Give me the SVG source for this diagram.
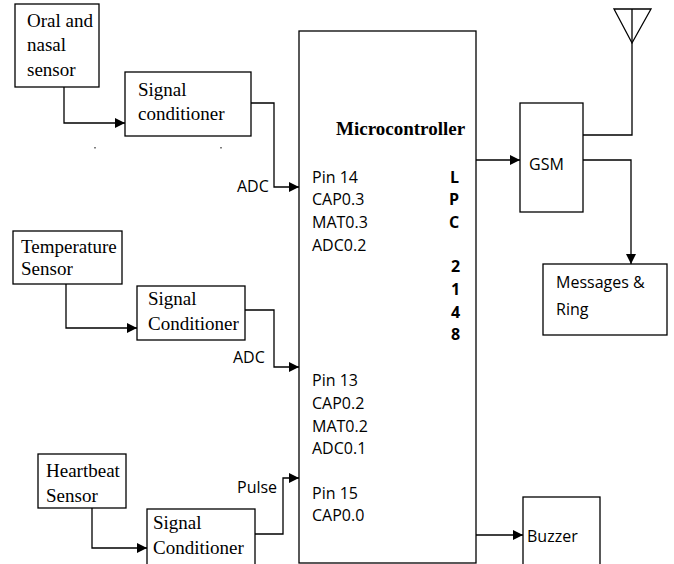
<svg xmlns="http://www.w3.org/2000/svg" width="674" height="564" viewBox="0 0 674 564">
<defs>
<marker id="ah" viewBox="0 0 10 10" refX="10" refY="5" markerWidth="10" markerHeight="10" markerUnits="userSpaceOnUse" orient="auto">
<path d="M0,0 L10,5 L0,10 z" fill="#000"/>
</marker>
<style>
.box{fill:#fff;stroke:#000;stroke-width:1.3}
.ln{fill:none;stroke:#000;stroke-width:1.3}
.ser{font-family:"Liberation Serif","Times New Roman",serif;font-size:19px;fill:#000}
.sb{font-family:"Liberation Serif","Times New Roman",serif;font-size:19px;font-weight:bold;fill:#000}
.sans{font-family:"Open Sans","DejaVu Sans",sans-serif;font-size:16px;fill:#000}
.bold{font-family:"Open Sans","DejaVu Sans",sans-serif;font-size:16px;font-weight:bold;fill:#000}
</style>
</defs>
<rect width="674" height="564" fill="#fff"/>

<g id="connectors">
<path class="ln" d="M64,87 V123 H125" marker-end="url(#ah)"/>
<path class="ln" d="M251,103 H274 V187 H299" marker-end="url(#ah)"/>
<path class="ln" d="M66,284 V328 H137" marker-end="url(#ah)"/>
<path class="ln" d="M245,310 H274 V367 H299" marker-end="url(#ah)"/>
<path class="ln" d="M92,508 V548 H147" marker-end="url(#ah)"/>
<path class="ln" d="M255,534 H283 V478 H299" marker-end="url(#ah)"/>
<path class="ln" d="M476,160 H520" marker-end="url(#ah)"/>
<path class="ln" d="M583,135 H632 V9"/>
<path class="ln" d="M583,160 H631 V264" marker-end="url(#ah)"/>
<path class="ln" d="M476,535 H523" marker-end="url(#ah)"/>
<text class="sans" x="237" y="192">ADC</text>
<text class="sans" x="233" y="363">ADC</text>
<text class="sans" x="237" y="493">Pulse</text>
<rect x="94.5" y="147" width="1" height="1.5" fill="#000"/>
<rect x="220.5" y="147" width="1" height="1.5" fill="#000"/>
</g>

<g id="oral-nasal-sensor">
<rect class="box" x="15" y="4" width="84" height="83"/>
<text class="ser" x="27" y="27">Oral and</text>
<text class="ser" x="27" y="51">nasal</text>
<text class="ser" x="27" y="76">sensor</text>
</g>

<g id="signal-conditioner-1">
<rect class="box" x="125" y="72" width="126" height="64"/>
<text class="ser" x="138" y="96">Signal</text>
<text class="ser" x="138" y="120">conditioner</text>
</g>

<g id="temperature-sensor">
<rect class="box" x="13" y="231" width="109" height="53"/>
<text class="ser" x="21" y="253">Temperature</text>
<text class="ser" x="21" y="275">Sensor</text>
</g>

<g id="signal-conditioner-2">
<rect class="box" x="137" y="286" width="108" height="54"/>
<text class="ser" x="148" y="305">Signal</text>
<text class="ser" x="148" y="330">Conditioner</text>
</g>

<g id="heartbeat-sensor">
<rect class="box" x="38" y="454" width="88" height="54"/>
<text class="ser" x="46" y="477">Heartbeat</text>
<text class="ser" x="46" y="502">Sensor</text>
</g>

<g id="signal-conditioner-3">
<rect class="box" x="147" y="509" width="108" height="60"/>
<text class="ser" x="153" y="529">Signal</text>
<text class="ser" x="153" y="554">Conditioner</text>
</g>

<g id="microcontroller">
<rect class="box" x="299" y="31" width="177" height="532"/>
<text class="sb" x="336" y="135">Microcontroller</text>
<text class="sans" x="312" y="183">Pin 14</text>
<text class="sans" x="312" y="205">CAP0.3</text>
<text class="sans" x="312" y="228">MAT0.3</text>
<text class="sans" x="312" y="251">ADC0.2</text>
<text class="sans" x="312" y="386">Pin 13</text>
<text class="sans" x="312" y="409">CAP0.2</text>
<text class="sans" x="312" y="432">MAT0.2</text>
<text class="sans" x="312" y="454">ADC0.1</text>
<text class="sans" x="312" y="499">Pin 15</text>
<text class="sans" x="312" y="521">CAP0.0</text>
<text class="bold" x="450" y="183">L</text>
<text class="bold" x="449" y="205">P</text>
<text class="bold" x="449" y="228">C</text>
<text class="bold" x="451" y="272">2</text>
<text class="bold" x="451" y="295">1</text>
<text class="bold" x="451" y="318">4</text>
<text class="bold" x="451" y="340">8</text>
</g>

<g id="gsm">
<rect class="box" x="520" y="103" width="63" height="109"/>
<text class="sans" x="529" y="170">GSM</text>
</g>

<g id="antenna">
<path class="ln" d="M614,9 H651 L632,43 Z"/>
</g>

<g id="messages-ring">
<rect class="box" x="543" y="264" width="124" height="71"/>
<text class="sans" x="556" y="288">Messages &amp;</text>
<text class="sans" x="556" y="315">Ring</text>
</g>

<g id="buzzer">
<rect class="box" x="523" y="497" width="77" height="70"/>
<text class="sans" x="527" y="542">Buzzer</text>
</g>
</svg>
